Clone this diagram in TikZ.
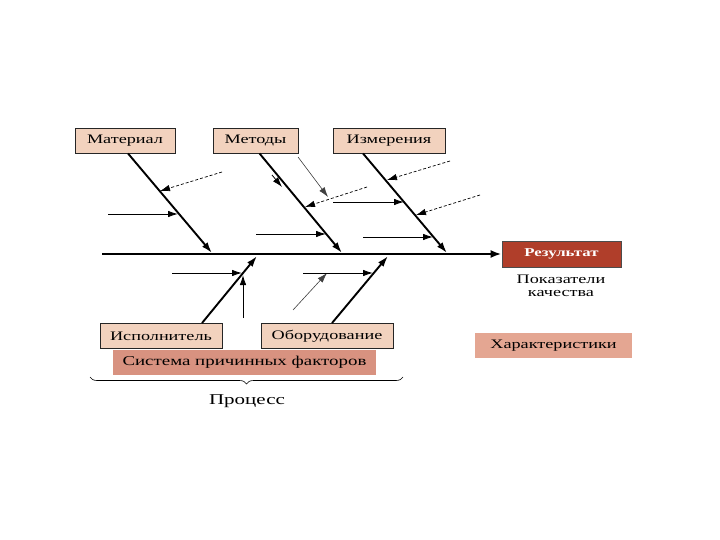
\documentclass[tikz,border=0pt]{standalone}
\usepackage{fontspec}
\setmainfont{Liberation Serif}[FakeStretch=1.4]
\usetikzlibrary{arrows.meta,decorations.pathreplacing}
\definecolor{peach}{RGB}{242,210,190}
\definecolor{salmon}{RGB}{216,146,128}
\definecolor{rosy}{RGB}{228,166,146}
\definecolor{rust}{RGB}{176,62,42}

\begin{document}
\begin{tikzpicture}[x=1pt,y=-1pt,
  cause/.style={draw=black!85,line width=0.9pt,fill=peach,minimum height=25pt,
    inner sep=0pt,font=\fontsize{13}{15}\selectfont},
  bone/.style={line width=1.9pt,-{Latex[length=11pt,width=7pt]}},
  feed/.style={line width=0.9pt,-{Latex[length=10pt,width=6.5pt]}},
  hint/.style={line width=0.7pt,dash pattern=on 3pt off 2pt,-{Latex[length=10pt,width=6.5pt]}},
  faint/.style={line width=0.6pt,black!75,-{Latex[length=10pt,width=6.5pt]}}]
  \useasboundingbox[fill=white] (0,0) rectangle (720,540);
  % boxes
  \node[cause,minimum width=100pt] (mat) at (125,140.5){Материал};
  \node[cause,minimum width=85pt]  (met) at (255.5,140.5){Методы};
  \node[cause,minimum width=112pt] (izm) at (389,140.5){Измерения};
  \node[cause,minimum width=122pt] (isp) at (161,336){Исполнитель};
  \node[cause,minimum width=132pt] (obo) at (327,336){Оборудование};
  \node[fill=salmon,minimum width=263pt,minimum height=25pt,inner sep=0pt,
    font=\fontsize{13.5}{15}\selectfont] (sys) at (244.5,362.5){Система причинных факторов};
  \node[draw=black!70,line width=0.8pt,fill=rust,text=white,minimum width=119pt,minimum height=26pt,
    inner sep=0pt,font=\fontsize{12}{14}\selectfont\bfseries] (res) at (561.5,254){Результат};
  \node[align=center,font=\fontsize{13}{13}\selectfont] (pok) at (561,286){Показатели\\качества};
  \node[fill=rosy,minimum width=157pt,minimum height=25pt,inner sep=0pt,
    font=\fontsize{13}{15}\selectfont] (har) at (553.5,345.5){Характеристики};
  % spine
  \coordinate (s0) at (102,254);
  \draw[line width=2.2pt,-{Latex[length=11pt,width=8pt]}] (s0) -- (res.west);
  % bones
  \coordinate (matb) at (212,253);
  \coordinate (metb) at (342,253);
  \coordinate (izmb) at (447,253);
  \coordinate (ispb) at (257,256);
  \coordinate (obob) at (388,256);
  \draw[bone] ([xshift=3pt]mat.south) -- (matb);
  \draw[bone] ([xshift=4pt]met.south) -- (metb);
  \draw[bone] ([xshift=-26pt]izm.south) -- (izmb);
  \draw[bone] ([xshift=41pt]isp.north) -- (ispb);
  \draw[bone] ([xshift=5pt]obo.north) -- (obob);
  % small causes
  \foreach \n/\a/\b/\c/\d/\s in {m1/222/172/160/191/hint, m2/108/214/178/214/feed,
      t1/298/157/328/197/faint, t2/367/187/305/207/hint, t3/256/234/326/234/feed,
      i1/450/161/387/180/hint, i2/333/202/404/202/feed, i3/480/195/416/215/hint,
      i4/363/237/433/237/feed, e1/172/273/242/273/feed, e2/243/318/243/275/feed,
      o1/293/310/327/273/faint, o2/303/273/373/273/feed}
    {\coordinate (\n a) at (\a,\b);
     \coordinate (\n b) at (\c,\d);
     \draw[\s] (\n a) -- (\n b);}
  % tip on the Методы bone
  \coordinate (t4a) at (272,175);
  \coordinate (t4b) at (282,187);
  \draw[line width=0.8pt,-{Latex[length=10pt,width=6.5pt]}] (t4a) -- (t4b);
  % brace
  \coordinate (br1) at (90,377);
  \coordinate (br2) at (403,377);
  \draw[line width=0.6pt,decorate,decoration={brace,amplitude=7pt,mirror}] (br1) -- (br2);
  \node[font=\fontsize{15}{16}\selectfont] (pro) at (247,401){Процесс};
\end{tikzpicture}
\end{document}
